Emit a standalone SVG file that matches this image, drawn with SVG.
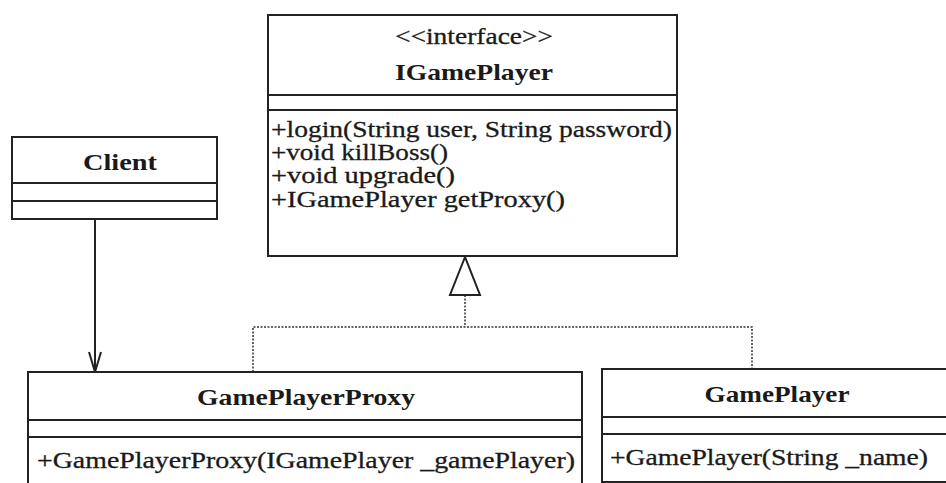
<svg xmlns="http://www.w3.org/2000/svg" width="946" height="483" viewBox="0 0 946 483">
<style>
.box{fill:#fff;stroke:#222;stroke-width:2}
.ln{stroke:#222;stroke-width:2;fill:none}
.dot{stroke:#333;stroke-width:1.5;stroke-dasharray:2 1.5;fill:none}
.t{font-family:"Liberation Serif",serif;font-size:23px;fill:#1a1a1a;stroke:#1a1a1a;stroke-width:0.3}
.b{font-family:"Liberation Serif",serif;font-size:24px;font-weight:bold;fill:#1a1a1a}
</style>
<g id="connectors">
<line class="ln" x1="95" y1="219" x2="95" y2="372"/>
<path d="M89,352 L95,372 L101,352" class="ln"/>
<polyline class="dot" points="253,372 253,327 752,327 752,369"/>
<line class="dot" x1="465" y1="295" x2="465" y2="327"/>
<polygon points="465,257 450,295 480,295" fill="#fff" stroke="#222" stroke-width="2"/>
</g>
<g id="IGamePlayer">
<rect class="box" x="268" y="15" width="409" height="241"/>
<line class="ln" x1="268" y1="95" x2="677" y2="95"/>
<line class="ln" x1="268" y1="110" x2="677" y2="110"/>
<text class="t" x="474" y="44" text-anchor="middle" textLength="158" lengthAdjust="spacingAndGlyphs">&lt;&lt;interface&gt;&gt;</text>
<text class="b" x="474" y="80" text-anchor="middle" textLength="158" lengthAdjust="spacingAndGlyphs">IGamePlayer</text>
<text class="t" x="271" y="137" textLength="401" lengthAdjust="spacingAndGlyphs">+login(String user, String password)</text>
<text class="t" x="271" y="160" textLength="177" lengthAdjust="spacingAndGlyphs">+void killBoss()</text>
<text class="t" x="271" y="183" textLength="184" lengthAdjust="spacingAndGlyphs">+void upgrade()</text>
<text class="t" x="271" y="207" textLength="294" lengthAdjust="spacingAndGlyphs">+IGamePlayer getProxy()</text>
</g>
<g id="Client">
<rect class="box" x="12" y="137" width="205" height="82"/>
<line class="ln" x1="12" y1="183" x2="217" y2="183"/>
<line class="ln" x1="12" y1="201" x2="217" y2="201"/>
<text class="b" x="120" y="170" text-anchor="middle" textLength="74" lengthAdjust="spacingAndGlyphs">Client</text>
</g>
<g id="GamePlayerProxy">
<rect class="box" x="28" y="372" width="554" height="130"/>
<line class="ln" x1="28" y1="420" x2="582" y2="420"/>
<line class="ln" x1="28" y1="437" x2="582" y2="437"/>
<text class="b" x="306" y="405" text-anchor="middle" textLength="218" lengthAdjust="spacingAndGlyphs">GamePlayerProxy</text>
<text class="t" x="37" y="468" textLength="538" lengthAdjust="spacingAndGlyphs">+GamePlayerProxy(IGamePlayer _gamePlayer)</text>
</g>
<g id="GamePlayer">
<rect class="box" x="602" y="369" width="352" height="113"/>
<line class="ln" x1="602" y1="417" x2="954" y2="417"/>
<line class="ln" x1="602" y1="434" x2="954" y2="434"/>
<text class="b" x="777" y="402" text-anchor="middle" textLength="145" lengthAdjust="spacingAndGlyphs">GamePlayer</text>
<text class="t" x="610" y="465" textLength="318" lengthAdjust="spacingAndGlyphs">+GamePlayer(String _name)</text>
</g>
</svg>
